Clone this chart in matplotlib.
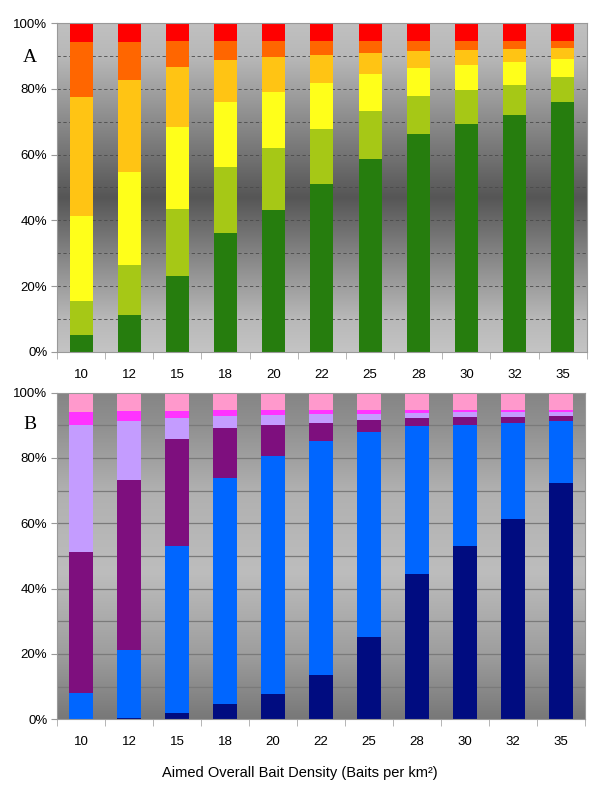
import numpy as np
import matplotlib
matplotlib.use('Agg')
import matplotlib.pyplot as plt
from matplotlib.colors import LinearSegmentedColormap

plt.rcParams['font.family'] = ['Liberation Sans', 'DejaVu Sans']

densidad = ['10', '12', '15', '18', '20', '22', '25', '28', '30', '32', '35']

# Panel A: percentages per class (bottom to top)
a_verde = [5.3, 11.2, 23.1, 36.1, 43.2, 51.0, 58.8, 66.4, 69.3, 72.1, 76.1]
a_verde_claro = [10.1, 15.3, 20.4, 20.2, 18.9, 16.9, 14.5, 11.5, 10.3, 9.1, 7.5]
a_amarillo = [26.0, 28.3, 24.8, 19.6, 16.8, 13.9, 11.1, 8.5, 7.6, 6.8, 5.4]
a_oro = [36.2, 27.9, 18.3, 12.9, 10.7, 8.5, 6.6, 5.2, 4.7, 4.1, 3.4]
a_naranja = [16.5, 11.5, 7.8, 5.6, 4.8, 4.2, 3.5, 2.9, 2.6, 2.4, 2.1]
a_rojo = [5.9, 5.8, 5.6, 5.6, 5.6, 5.5, 5.5, 5.5, 5.5, 5.5, 5.5]

# Panel B
b_marino = [0.2, 0.5, 1.8, 4.8, 7.7, 13.6, 25.1, 44.5, 53.1, 61.3, 72.4]
b_azul = [7.8, 20.7, 51.3, 69.2, 73.0, 71.7, 63.0, 45.3, 37.1, 29.4, 18.9]
b_morado = [43.3, 52.1, 32.8, 15.1, 9.4, 5.5, 3.4, 2.4, 2.3, 2.0, 1.6]
b_lavanda = [38.8, 18.1, 6.4, 3.9, 3.0, 2.7, 2.1, 1.7, 1.5, 1.4, 1.2]
b_magenta = [4.0, 3.0, 2.1, 1.6, 1.5, 1.1, 1.1, 0.8, 0.7, 0.6, 0.6]
b_rosa = [5.9, 5.6, 5.6, 5.4, 5.4, 5.4, 5.3, 5.3, 5.3, 5.3, 5.3]

series_a = [a_verde, a_verde_claro, a_amarillo, a_oro, a_naranja, a_rojo]
colores_a = ['#267d0e', '#a6c816', '#ffff1a', '#ffc414', '#ff6600', '#ff0000']
series_b = [b_marino, b_azul, b_morado, b_lavanda, b_magenta, b_rosa]
colores_b = ['#000c80', '#0066ff', '#7e0f7e', '#c49cff', '#ff33ff', '#ff99cc']

fig = plt.figure(figsize=(6, 7.96), dpi=100)
axA = fig.add_axes([0.095, 0.5578, 0.883, 0.4133])
axB = fig.add_axes([0.095, 0.0964, 0.880, 0.4103])

# Fondos con degradado
grad_a = LinearSegmentedColormap.from_list('ga', [(0, '#c4c4c4'), (0.1, '#b8b8b8'), (0.47, '#565656'), (0.9, '#b8b8b8'), (1, '#c0c0c0')])
grad_b = LinearSegmentedColormap.from_list('gb', [(0, '#787878'), (0.2, '#9e9e9e'), (0.45, '#bdbdbd'), (0.7, '#b0b0b0'), (0.9, '#909090'), (1, '#858585')])

x = np.arange(len(densidad))
for ax, series, colores, cmap, grid_style in [
        (axA, series_a, colores_a, grad_a, dict(color='#4a4a4a', linestyle=(0, (4, 3)), linewidth=0.6)),
        (axB, series_b, colores_b, grad_b, dict(color='#7a7a7a', linestyle='-', linewidth=0.9))]:
    ax.imshow(np.linspace(0, 1, 256).reshape(-1, 1), cmap=cmap, aspect='auto',
              extent=[-0.5, 10.5, 0, 100], origin='lower', zorder=0)
    for y in range(10, 100, 10):
        ax.axhline(y, zorder=1, **grid_style)
    base = np.zeros(len(densidad))
    for vals, c in zip(series, colores):
        vals = np.array(vals)
        ax.bar(x, vals, bottom=base, width=0.48, color=c, zorder=2)
        base += vals
    ax.set_xlim(-0.5, 10.5)
    ax.set_ylim(0, 100)
    ax.set_yticks(range(0, 101, 20))
    ax.set_yticklabels([f'{v}%' for v in range(0, 101, 20)], fontsize=9.5)
    ax.set_xticks(x)
    ax.set_xticklabels(densidad, fontsize=9.5)
    ax.set_xticks(np.arange(-0.5, 11, 1), minor=True)
    ax.tick_params(axis='x', which='major', length=0, pad=12)
    ax.tick_params(axis='x', which='minor', length=5, color='#aaaaaa')
    ax.tick_params(axis='y', length=4, color='#999999', pad=3)
    for s in ax.spines.values():
        s.set_color('#999999')
        s.set_linewidth(0.8)

fig.text(0.05, 1 - 57 / 796, 'A', fontsize=14, family='Liberation Serif', ha='center', va='center')
fig.text(0.05, 1 - 425 / 796, 'B', fontsize=14, family='Liberation Serif', ha='center', va='center')
fig.text(0.5, 1 - 773 / 796, 'Aimed Overall Bait Density (Baits per km²)', fontsize=10.5, ha='center', va='center')

fig.savefig('out.png', dpi=100)
